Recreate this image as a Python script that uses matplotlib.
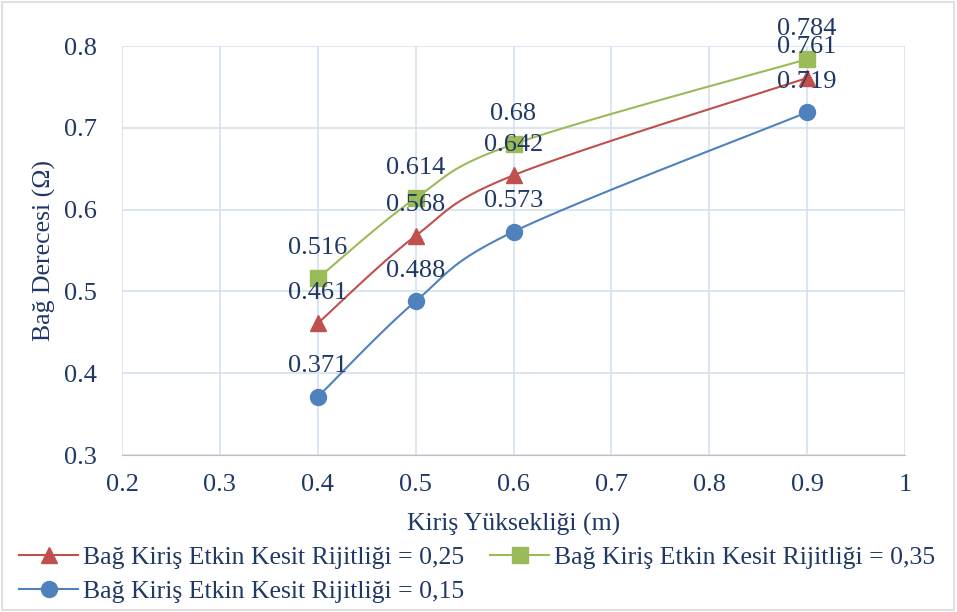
import numpy as np
import matplotlib.pyplot as plt
from matplotlib.patches import Rectangle
from matplotlib.ticker import MultipleLocator, FuncFormatter

# veriler
x_vals = [0.4, 0.5, 0.6, 0.9]
y_025 = [0.461, 0.568, 0.642, 0.761]
y_035 = [0.516, 0.614, 0.68, 0.784]
y_015 = [0.371, 0.488, 0.573, 0.719]

lbl_025 = "Bağ Kiriş Etkin Kesit Rijitliği = 0,25"
lbl_035 = "Bağ Kiriş Etkin Kesit Rijitliği = 0,35"
lbl_015 = "Bağ Kiriş Etkin Kesit Rijitliği = 0,15"

TXT = "#1F3864"
GRID = "#D6E2F0"


def smooth(xs, ys, n=40):
    # Excel tarzı yumuşatma (Catmull-Rom -> Bezier)
    p = np.column_stack([xs, ys]).astype(float)
    out = []
    for i in range(len(p) - 1):
        p0 = p[i - 1] if i > 0 else p[i]
        p1, p2 = p[i], p[i + 1]
        p3 = p[i + 2] if i + 2 < len(p) else p[i + 1]
        c1 = p1 + (p2 - p0) / 6
        c2 = p2 - (p3 - p1) / 6
        t = np.linspace(0, 1, n)[:, None]
        seg = ((1 - t) ** 3) * p1 + 3 * ((1 - t) ** 2) * t * c1 + 3 * (1 - t) * t ** 2 * c2 + t ** 3 * p2
        out.append(seg)
    arr = np.vstack(out)
    return arr[:, 0], arr[:, 1]


plt.rcParams["font.family"] = ["Liberation Serif", "DejaVu Serif"]

fig = plt.figure(figsize=(9.57, 6.12), dpi=100)
fig.patch.set_facecolor("white")
ax = fig.add_axes([0.1275, 0.2565, 0.8182, 0.6683])

series = [
    (y_025, "#C0504D", "^", lbl_025),
    (y_035, "#9BBB59", "s", lbl_035),
    (y_015, "#4F81BD", "o", lbl_015),
]
handles = {}
for ys, col, mk, lbl in series:
    sx, sy = smooth(x_vals, ys)
    ax.plot(sx, sy, color=col, linewidth=1.5, zorder=3)
    ax.plot(x_vals, ys, linestyle="none", marker=mk, markersize=11.5,
            color=col, zorder=4, clip_on=False)
    h, = ax.plot([], [], color=col, linewidth=1.5, marker=mk, markersize=11.5, label=lbl)
    handles[lbl] = h
    for x, y in zip(x_vals, ys):
        ax.annotate(f"{y:g}", xy=(x, y), xytext=(0, 22), textcoords="offset points",
                    ha="center", va="center", fontsize=19, color=TXT, zorder=5,
                    annotation_clip=False)

ax.set_xlim(0.2, 1.0)
ax.set_ylim(0.3, 0.8)
ax.xaxis.set_major_locator(MultipleLocator(0.1))
ax.yaxis.set_major_locator(MultipleLocator(0.1))
ax.xaxis.set_major_formatter(FuncFormatter(lambda v, p: f"{round(v, 1):g}"))
ax.yaxis.set_major_formatter(FuncFormatter(lambda v, p: f"{round(v, 1):g}"))
ax.grid(True, color=GRID, linewidth=1.2)
ax.set_axisbelow(True)
for s in ["top", "right", "left"]:
    ax.spines[s].set_visible(False)
ax.spines["bottom"].set_color("#BFBFBF")
ax.tick_params(length=0, labelsize=19, labelcolor=TXT)
ax.tick_params(axis="x", pad=14)
ax.tick_params(axis="y", pad=18)

ax.set_xlabel("Kiriş Yüksekliği (m)", fontsize=18.5, color=TXT, labelpad=12)
ax.set_ylabel("Bağ Derecesi (Ω)", fontsize=18.5, color=TXT, labelpad=6)

leg = fig.legend([handles[lbl_025], handles[lbl_015], handles[lbl_035]],
                 [lbl_025, lbl_015, lbl_035],
                 loc="upper left", bbox_to_anchor=(0.02, 0.108), ncol=2,
                 frameon=False, fontsize=18.5, handlelength=2.3, handletextpad=0.2,
                 columnspacing=1.0, labelspacing=0.42, borderaxespad=0,
                 borderpad=0)
for t in leg.get_texts():
    t.set_color(TXT)

fig.patches.append(Rectangle((0.002, 0.003), 0.995, 0.994, transform=fig.transFigure,
                             fill=False, edgecolor="#D9D9D9", linewidth=1.2))

fig.savefig("out.png", dpi=100)
